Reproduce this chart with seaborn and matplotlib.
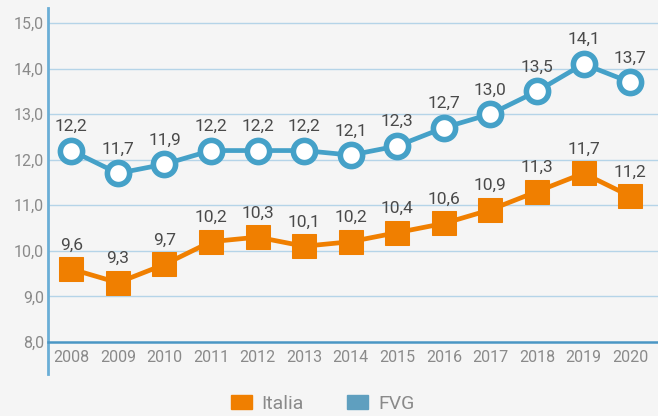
import pandas as pd
import seaborn as sns
import matplotlib.pyplot as plt
from matplotlib.patches import Patch

# Data
years = [2008, 2009, 2010, 2011, 2012, 2013, 2014, 2015, 2016, 2017, 2018, 2019, 2020]
italia = [9.6, 9.3, 9.7, 10.2, 10.3, 10.1, 10.2, 10.4, 10.6, 10.9, 11.3, 11.7, 11.2]
fvg = [12.2, 11.7, 11.9, 12.2, 12.2, 12.2, 12.1, 12.3, 12.7, 13.0, 13.5, 14.1, 13.7]
y_ticks = [8, 9, 10, 11, 12, 13, 14, 15]

df = pd.DataFrame({'Anno': [str(y) for y in years], 'Italia': italia, 'FVG': fvg})

sns.set_style('white')
plt.rcParams['font.family'] = ['Roboto', 'DejaVu Sans']

bg = '#f5f5f5'
orange = '#f07f00'
blue = '#45a1c8'
grey_txt = '#8a8a8a'

fig = plt.figure(figsize=(6.58, 4.16), dpi=100, facecolor=bg)
ax = fig.add_axes([0.073, 0.178, 0.927, 0.803])
ax.set_facecolor(bg)

sns.lineplot(data=df, x='Anno', y='Italia', ax=ax, color=orange, lw=3.4,
             marker='s', markersize=17, markeredgecolor=orange, zorder=3)
sns.lineplot(data=df, x='Anno', y='FVG', ax=ax, color=blue, lw=3.4,
             marker='o', markersize=16, markerfacecolor='white',
             markeredgecolor=blue, markeredgewidth=4, zorder=4)

# value labels
for i, (a, b) in enumerate(zip(italia, fvg)):
    ax.annotate(f'{a:.1f}'.replace('.', ','), (i, a), xytext=(0, 12),
                textcoords='offset points', ha='center', va='bottom',
                fontsize=12.5, color='#4a4a4a')
    ax.annotate(f'{b:.1f}'.replace('.', ','), (i, b), xytext=(0, 12),
                textcoords='offset points', ha='center', va='bottom',
                fontsize=12.5, color='#4a4a4a')

ax.set_ylim(8, 15.33)
ax.set_xlim(-0.5, 12.6)
ax.set_yticks(y_ticks)
ax.set_yticklabels([f'{t:.1f}'.replace('.', ',') for t in y_ticks])
for t in y_ticks[1:]:
    ax.axhline(t, color='#b5d4e8', lw=1, zorder=1)

ax.tick_params(axis='both', length=0, labelsize=11.5, labelcolor=grey_txt)
ax.tick_params(axis='x', pad=6)
ax.tick_params(axis='y', pad=3)
ax.set_xlabel('')
ax.set_ylabel('')

for s in ['top', 'right']:
    ax.spines[s].set_visible(False)
ax.spines['left'].set_color('#6aaed6')
ax.spines['left'].set_linewidth(2)
ax.spines['left'].set_bounds(7.3, 15.33)
ax.spines['bottom'].set_color('#4a96c4')
ax.spines['bottom'].set_linewidth(1.8)

handles = [Patch(color=orange, label='Italia'), Patch(color='#5f9fbf', label='FVG')]
fig.legend(handles=handles, loc='lower center', bbox_to_anchor=(0.49, -0.035),
           ncol=2, frameon=False, fontsize=14, labelcolor=grey_txt,
           handlelength=1.1, handleheight=0.75, handletextpad=0.5,
           columnspacing=2.2)

fig.savefig('out.png', dpi=100, facecolor=bg)
